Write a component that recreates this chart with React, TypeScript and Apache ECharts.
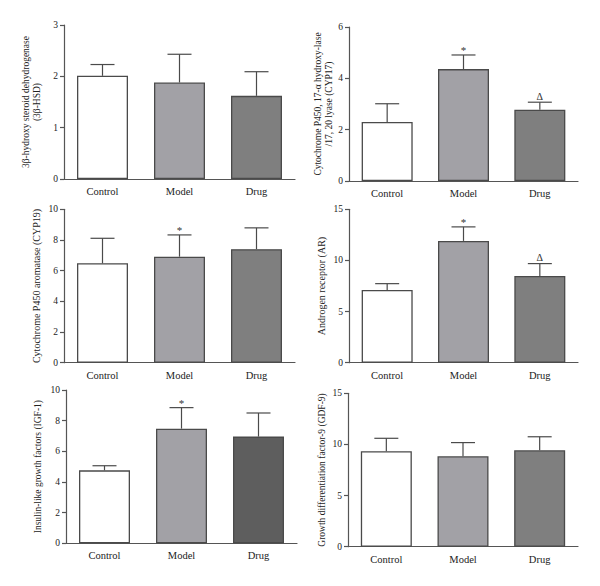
import React, { useEffect, useRef } from "react";
import * as echarts from "echarts";

const categories = ["Control", "Model", "Drug"];

const hsdMean = [2.01, 1.88, 1.62];
const hsdSD = [0.22, 0.55, 0.47];
const hsdMarks = ["", "", ""];

const cyp17Mean = [2.3, 4.36, 2.78];
const cyp17SD = [0.71, 0.55, 0.29];
const cyp17Marks = ["", "*", "Δ"];

const cyp19Mean = [6.48, 6.91, 7.4];
const cyp19SD = [1.63, 1.42, 1.39];
const cyp19Marks = ["", "*", ""];

const arMean = [7.11, 11.91, 8.48];
const arSD = [0.62, 1.37, 1.21];
const arMarks = ["", "*", "Δ"];

const igfMean = [4.76, 7.48, 6.96];
const igfSD = [0.3, 1.37, 1.54];
const igfMarks = ["", "*", ""];

const gdfMean = [9.33, 8.84, 9.43];
const gdfSD = [1.27, 1.34, 1.32];
const gdfMarks = ["", "", ""];

const panels = [
  { name: "3β-hydroxy steroid dehydrogenase\n(3β-HSD)", mean: hsdMean, sd: hsdSD, marks: hsdMarks, max: 3, interval: 1, drugColor: "#7f7f7f" },
  { name: "Cytochrome P450, 17-α hydroxy-lase\n/17, 20 lyase (CYP17)", mean: cyp17Mean, sd: cyp17SD, marks: cyp17Marks, max: 6, interval: 2, drugColor: "#7f7f7f" },
  { name: "Cytochrome P450 aromatase (CYP19)", mean: cyp19Mean, sd: cyp19SD, marks: cyp19Marks, max: 10, interval: 2, drugColor: "#7f7f7f" },
  { name: "Androgen receptor (AR)", mean: arMean, sd: arSD, marks: arMarks, max: 15, interval: 5, drugColor: "#7f7f7f" },
  { name: "Insulin-like growth factors (IGF-1)", mean: igfMean, sd: igfSD, marks: igfMarks, max: 10, interval: 2, drugColor: "#5e5e5e" },
  { name: "Growth differentiation factor-9 (GDF-9)", mean: gdfMean, sd: gdfSD, marks: gdfMarks, max: 15, interval: 5, drugColor: "#7f7f7f" },
];

const layout = [
  { left: 64, top: 25, width: 231, height: 154, nameGap: 22, nameSize: 9.5 },
  { left: 349, top: 27, width: 229, height: 154, nameGap: 15, nameSize: 9.5 },
  { left: 64, top: 209.3, width: 231, height: 153.4, nameGap: 22, nameSize: 10 },
  { left: 349, top: 209.3, width: 229, height: 153.4, nameGap: 22, nameSize: 10 },
  { left: 66, top: 390, width: 231, height: 153.3, nameGap: 23, nameSize: 9.5 },
  { left: 348, top: 393.3, width: 230, height: 153.4, nameGap: 21, nameSize: 9.5 },
];

const FONT = "Liberation Serif";
const AXIS = "#555555";
const BORDER = "#4a4a4a";

export default function App() {
  const ref = useRef<HTMLDivElement>(null);
  useEffect(() => {
    if (!ref.current) return;
    const chart = echarts.init(ref.current, undefined, { renderer: "svg" });
    const series: any[] = [];
    panels.forEach((p, i) => {
      const colors = ["#ffffff", "#a2a1a6", p.drugColor];
      series.push({
        type: "bar",
        xAxisIndex: i,
        yAxisIndex: i,
        barWidth: 51,
        z: 2,
        data: p.mean.map((v, k) => ({
          value: v,
          itemStyle: { color: colors[k], borderColor: BORDER, borderWidth: 1.3 },
        })),
      });
      series.push({
        type: "custom",
        xAxisIndex: i,
        yAxisIndex: i,
        z: 3,
        data: p.mean.map((v, k) => [k, v, v + p.sd[k]]),
        renderItem: (params: any, api: any) => {
          const idx = api.value(0);
          const base = api.coord([idx, api.value(1)]);
          const top = api.coord([idx, api.value(2)]);
          const mark = p.marks[params.dataIndex];
          const children: any[] = [
            { type: "line", shape: { x1: base[0], y1: base[1], x2: top[0], y2: top[1] }, style: { stroke: BORDER, lineWidth: 1.2 } },
            { type: "line", shape: { x1: top[0] - 12, y1: top[1], x2: top[0] + 12, y2: top[1] }, style: { stroke: BORDER, lineWidth: 1.2 } },
          ];
          if (mark) {
            children.push({
              type: "text",
              x: top[0],
              y: mark === "*" ? top[1] + 1 : top[1] - 1,
              style: {
                text: mark,
                fill: "#333",
                font: `${mark === "*" ? 11 : 10}px "${FONT}"`,
                align: "center",
                verticalAlign: "bottom",
              },
            });
          }
          return { type: "group", children };
        },
      });
    });

    chart.setOption({
      animation: false,
      textStyle: { fontFamily: FONT },
      grid: layout.map((l) => ({ left: l.left, top: l.top, width: l.width, height: l.height, containLabel: false })),
      xAxis: panels.map((p, i) => ({
        type: "category",
        gridIndex: i,
        data: categories,
        axisLine: { lineStyle: { color: AXIS, width: 1.2 } },
        axisTick: { alignWithLabel: true, length: 4, lineStyle: { color: AXIS, width: 1.2 } },
        axisLabel: { color: "#222", fontSize: 10.5, fontFamily: FONT, margin: 7 },
        splitLine: { show: false },
      })),
      yAxis: panels.map((p, i) => ({
        type: "value",
        gridIndex: i,
        min: 0,
        max: p.max,
        interval: p.interval,
        name: p.name,
        nameLocation: "middle",
        nameRotate: 90,
        nameGap: layout[i].nameGap,
        nameTextStyle: { color: "#222", fontSize: layout[i].nameSize, fontFamily: FONT, lineHeight: 11 },
        axisLine: { show: true, lineStyle: { color: AXIS, width: 1.2 } },
        axisTick: { show: true, length: 4, lineStyle: { color: AXIS, width: 1.2 } },
        axisLabel: { color: "#222", fontSize: 9.5, fontFamily: FONT, margin: 6 },
        splitLine: { show: false },
      })),
      series,
    });
    return () => chart.dispose();
  }, []);
  return <div ref={ref} style={{ position: "fixed", left: 0, top: 0, width: 600, height: 586, background: "#fff" }} />;
}
